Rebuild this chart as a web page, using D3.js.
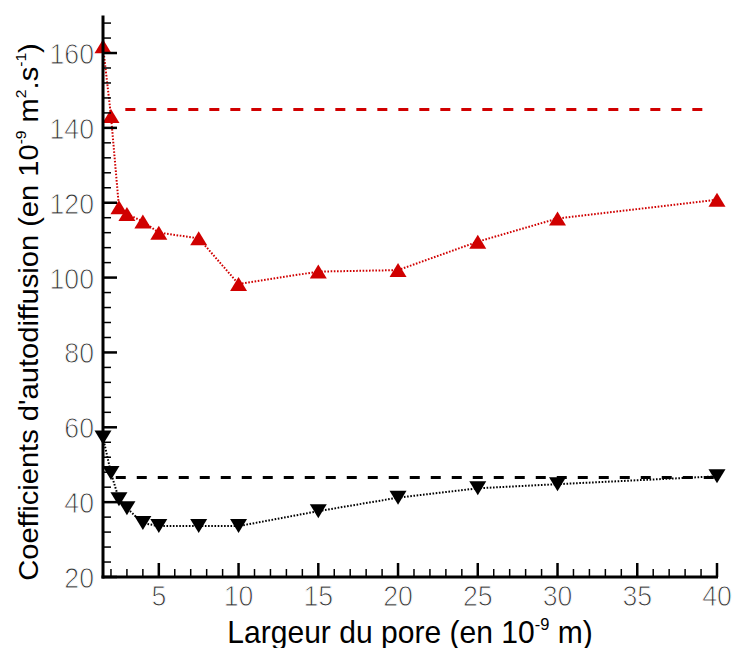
<!DOCTYPE html>
<html><head><meta charset="utf-8">
<script src="https://cdn.jsdelivr.net/npm/d3@7"></script>
<style>html,body{margin:0;padding:0;background:#fff}svg{display:block}</style>
</head><body>
<script>
const poreWidths = [1.5, 2, 2.5, 3, 4, 5, 7.5, 10, 15, 20, 25, 30, 40];
const redValues   = [161.8, 143.2, 118.8, 117, 115, 112, 110.5, 98.3, 101.6, 102, 109.6, 115.8, 120.8];
const blackValues = [57.3, 47.8, 40.8, 38.4, 34.4, 33.6, 33.6, 33.6, 37.6, 41.2, 43.7, 44.8, 46.9];
const redRef = 144.9, redRefX = [2.9, 39.5];
const blackRef = 46.6, blackRefX = [2.3, 39.8];
const xTicks = [5, 10, 15, 20, 25, 30, 35, 40];
const yTicks = [20, 40, 60, 80, 100, 120, 140, 160];

const W = 734, H = 648;
const svg = d3.select("body").append("svg").attr("width", W).attr("height", H);
const x = d3.scaleLinear().domain([1.5, 40]).range([103, 717]);
const y = d3.scaleLinear().domain([20, 170]).range([577, 15.6]);
const font = "'Liberation Sans', Arial, sans-serif";
const RED = "#d00000";

function hline(v, xs, color) {
  svg.append("line").attr("x1", x(xs[0])).attr("x2", x(xs[1]))
    .attr("y1", y(v)).attr("y2", y(v))
    .attr("stroke", color).attr("stroke-width", 3).attr("stroke-dasharray", "10,11");
}
hline(redRef, redRefX, RED);
hline(blackRef, blackRefX, "#000");

const line = d3.line().x(d => x(d[0])).y(d => y(d[1]));
function series(vals, color, up) {
  const pts = poreWidths.map((p, i) => [p, vals[i]]);
  svg.append("path").attr("d", line(pts)).attr("fill", "none")
    .attr("stroke", color).attr("stroke-width", 2).attr("stroke-dasharray", "1.6,1.6");
  const w = 8.5, h = 7;
  svg.append("g").selectAll("path").data(pts).join("path")
    .attr("d", d => {
      const cx = x(d[0]), cy = y(d[1]);
      return up ? `M${cx},${cy-h}L${cx+w},${cy+h}L${cx-w},${cy+h}Z`
                : `M${cx},${cy+h}L${cx+w},${cy-h}L${cx-w},${cy-h}Z`;
    })
    .attr("fill", color);
}
series(redValues, RED, true);
series(blackValues, "#000", false);

const ax = svg.append("g");
ax.append("line").attr("x1", x(1.5)).attr("x2", x(1.5)).attr("y1", y(170)).attr("y2", y(20) + 1.5)
  .attr("stroke", "#000").attr("stroke-width", 3);
ax.append("line").attr("x1", x(1.5) - 1.5).attr("x2", x(40) + 1).attr("y1", y(20)).attr("y2", y(20))
  .attr("stroke", "#000").attr("stroke-width", 3);

const yMinor = d3.range(24, 170, 4).filter(v => v % 20 !== 0);
ax.selectAll(".ymin").data(yMinor).join("line")
  .attr("x1", x(1.5)).attr("x2", x(1.5) + 8).attr("y1", d => y(d)).attr("y2", d => y(d))
  .attr("stroke", "#000").attr("stroke-width", 1.5);
ax.selectAll(".ymaj").data(yTicks).join("line")
  .attr("x1", x(1.5)).attr("x2", x(1.5) + 14).attr("y1", d => y(d)).attr("y2", d => y(d))
  .attr("stroke", "#000").attr("stroke-width", 2.5);
ax.selectAll(".ylab").data(yTicks).join("text")
  .attr("transform", d => `translate(94,${y(d) + 11}) scale(0.89,1)`).attr("text-anchor", "end")
  .attr("font-family", font).attr("font-size", 30).attr("fill", "#333")
  .attr("stroke", "#fff").attr("stroke-width", 1).text(d => d);

const xMinor = d3.range(2, 40, 1).filter(v => v % 5 !== 0);
ax.selectAll(".xmin").data(xMinor).join("line")
  .attr("x1", d => x(d)).attr("x2", d => x(d)).attr("y1", y(20)).attr("y2", y(20) - 8)
  .attr("stroke", "#000").attr("stroke-width", 1.5);
ax.selectAll(".xmaj").data(xTicks).join("line")
  .attr("x1", d => x(d)).attr("x2", d => x(d)).attr("y1", y(20)).attr("y2", y(20) - 14)
  .attr("stroke", "#000").attr("stroke-width", 2.5);
ax.selectAll(".xlab").data(xTicks).join("text")
  .attr("transform", d => `translate(${x(d)},606) scale(0.89,1)`).attr("text-anchor", "middle")
  .attr("font-family", font).attr("font-size", 30).attr("fill", "#333")
  .attr("stroke", "#fff").attr("stroke-width", 1).text(d => d);

const xt = svg.append("text").attr("transform", "translate(410,643) scale(0.97,1)").attr("text-anchor", "middle")
  .attr("font-family", font).attr("font-size", 31).attr("fill", "#000");
xt.append("tspan").text("Largeur du pore (en 10");
xt.append("tspan").attr("font-size", 17).attr("dy", -13).text("-9");
xt.append("tspan").attr("dy", 13).text(" m)");

const yt = svg.append("text").attr("transform", "translate(38,312) rotate(-90) scale(1.04,1)").attr("text-anchor", "middle")
  .attr("font-family", font).attr("font-size", 28).attr("fill", "#000");
yt.append("tspan").text("Coefficients d'autodiffusion (en 10");
yt.append("tspan").attr("font-size", 15).attr("dy", -12).text("-9");
yt.append("tspan").attr("dy", 12).text(" m");
yt.append("tspan").attr("font-size", 15).attr("dy", -12).text("2");
yt.append("tspan").attr("dy", 12).text(".s");
yt.append("tspan").attr("font-size", 15).attr("dy", -12).text("-1");
yt.append("tspan").attr("dy", 12).text(")");
</script>
</body></html>
